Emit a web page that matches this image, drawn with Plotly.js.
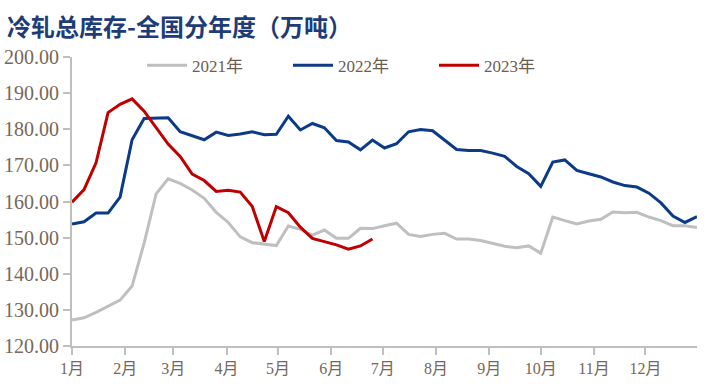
<!DOCTYPE html>
<html>
<head>
<meta charset="utf-8">
<script src="https://cdn.plot.ly/plotly-3.0.1.min.js"></script>
<style>
html,body{margin:0;padding:0;background:#fff;}
#chart{width:710px;height:391px;}
</style>
</head>
<body>
<div id="chart"></div>
<script>
// Series names
const seriesNames = ['2021年', '2022年', '2023年'];
// Month tick labels
const monthLabels = ['1月','2月','3月','4月','5月','6月','7月','8月','9月','10月','11月','12月'];
// Weekly values (万吨), week 1 starting at 1月1日
const y2021 = [127.2,127.8,129.3,131.0,132.7,136.6,148.5,162.1,166.3,165.0,163.2,160.9,157.0,154.2,150.2,148.6,148.2,147.8,
  153.2,152.3,150.7,152.1,149.8,149.8,152.6,152.5,153.3,154.0,150.9,150.3,150.9,151.2,149.6,149.6,149.2,148.3,147.6,147.2,
  147.7,145.7,155.7,154.7,153.8,154.6,155.1,157.1,156.9,157.0,155.7,154.7,153.3,153.3,152.8];
const y2022 = [153.8,154.4,156.8,156.8,161.2,177.1,183.0,183.2,183.2,179.3,178.1,177.1,179.2,178.3,178.7,179.3,178.5,178.6,
  183.6,179.8,181.6,180.4,176.9,176.5,174.3,177.0,174.8,176.0,179.3,179.9,179.6,177.0,174.4,174.1,174.1,173.4,172.5,169.7,
  167.7,164.2,170.9,171.5,168.6,167.7,166.8,165.4,164.4,164.0,162.3,159.6,156.0,154.2,155.8];
const y2023 = [159.8,163.3,170.7,184.6,186.9,188.4,185.0,180.6,175.9,172.5,167.6,165.8,162.8,163.1,162.6,158.6,148.9,158.6,
  156.9,152.9,149.8,148.9,148.0,146.8,147.7,149.6];

const colors = ['#BFBFBF', '#0B3A87', '#C00000'];

function weekDates(n){
  const out = [];
  const base = Date.UTC(2021,0,1);
  for(let i=0;i<n;i++){
    const d = new Date(base + i*7*86400000);
    out.push(d.toISOString().slice(0,10));
  }
  return out;
}
function pad(n){return (n<10?'0':'')+n;}
const monthTickVals = monthLabels.map((m,i)=>'2021-'+pad(i+1)+'-01');

const allY = [y2021, y2022, y2023];
const traces = allY.map((ys, k) => ({
  type: 'scatter', mode: 'lines',
  name: seriesNames[k],
  x: weekDates(ys.length),
  y: ys,
  line: {color: colors[k], width: 3},
  hoverinfo: 'x+y'
}));

const serif = '"Liberation Serif", "Times New Roman", "Noto Sans CJK SC", serif';

const layout = {
  width: 710, height: 391,
  paper_bgcolor: '#ffffff', plot_bgcolor: '#ffffff',
  margin: {l: 72, r: 13, t: 57, b: 45},
  title: {
    text: '<b>冷轧总库存-全国分年度（万吨）</b>',
    font: {family: '"Noto Sans CJK SC", sans-serif', size: 24, color: '#1D3C78'},
    x: 0.01, xanchor: 'left', xref: 'container',
    y: 0.93, yanchor: 'middle', yref: 'container'
  },
  showlegend: true,
  legend: {
    orientation: 'h',
    x: 0.112, xanchor: 'left',
    y: 0.97, yanchor: 'middle',
    font: {family: serif, size: 17, color: '#6B5E50'},
    bgcolor: 'rgba(0,0,0,0)',
    entrywidth: 91, entrywidthmode: 'pixels',
    itemwidth: 40
  },
  xaxis: {
    type: 'date',
    range: ['2021-01-01', '2021-12-31'],
    tickvals: monthTickVals,
    ticktext: monthLabels,
    ticks: 'outside', ticklen: 7, tickwidth: 1.5, tickcolor: '#BFBFBF',
    showline: true, linecolor: '#BFBFBF', linewidth: 2,
    showgrid: false, zeroline: false,
    tickfont: {family: serif, size: 16, color: '#76685A'},
    fixedrange: true
  },
  yaxis: {
    range: [120, 200],
    tickvals: [120,130,140,150,160,170,180,190,200],
    tickformat: '.2f',
    ticks: 'outside', ticklen: 7, tickwidth: 1.5, tickcolor: '#BFBFBF',
    showline: true, linecolor: '#BFBFBF', linewidth: 2,
    showgrid: false, zeroline: false,
    tickfont: {family: serif, size: 20, color: '#76685A'},
    fixedrange: true
  }
};

Plotly.newPlot('chart', traces, layout, {displayModeBar: false});
</script>
</body>
</html>
